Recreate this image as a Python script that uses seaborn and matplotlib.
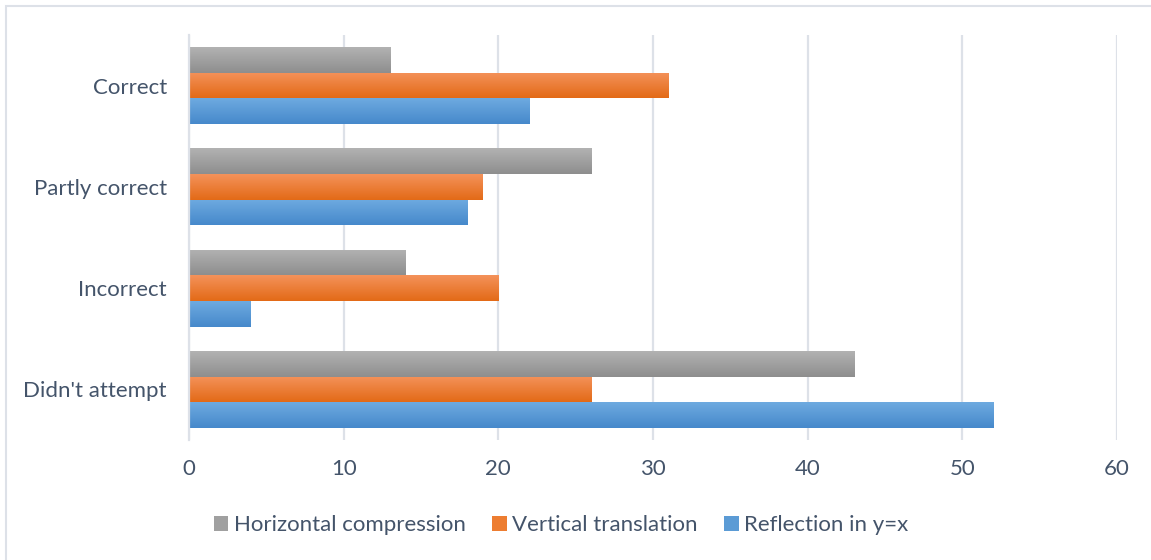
import numpy as np
import pandas as pd
import matplotlib
matplotlib.use("Agg")
import matplotlib.pyplot as plt
import seaborn as sns
from matplotlib.patches import Patch, Rectangle
from matplotlib.colors import LinearSegmentedColormap

categories = ["Correct", "Partly correct", "Incorrect", "Didn't attempt"]
series = ["Horizontal compression", "Vertical translation", "Reflection in y=x"]
horizontal_compression = [13, 26, 14, 43]
vertical_translation = [31, 19, 20, 26]
reflection = [22, 18, 4, 52]
xticks = [0, 10, 20, 30, 40, 50, 60]

colors = {"Horizontal compression": "#a0a0a0",
          "Vertical translation": "#ed7d31",
          "Reflection in y=x": "#5b9bd5"}
grad = {"Horizontal compression": ("#b2b2b2", "#8e8e8e"),
        "Vertical translation": ("#f4925a", "#e36a17"),
        "Reflection in y=x": ("#6eaae0", "#4689cb")}

rows = []
for s, vals in zip(series, [horizontal_compression, vertical_translation, reflection]):
    for c, v in zip(categories, vals):
        rows.append({"category": c, "series": s, "value": v})
df = pd.DataFrame(rows)

sns.set_theme(style="white")
plt.rcParams['font.family'] = ['Lato', 'DejaVu Sans']
text_color = "#44546A"

fig = plt.figure(figsize=(11.51, 5.6), dpi=100)
ax = fig.add_axes([189/1151, 1-440/560, (1117-189)/1151, (440-35)/560])

sns.barplot(data=df, y="category", x="value", hue="series", order=categories,
            hue_order=series, palette=colors, orient="h", width=0.76,
            ax=ax, legend=False, saturation=1, linewidth=0, errorbar=None)

# gradient fills (lighter at top, darker at bottom)
for container, s in zip(ax.containers, series):
    cmap = LinearSegmentedColormap.from_list(s, [grad[s][0], grad[s][1]])
    for bar in container:
        x0, y0 = bar.get_x(), bar.get_y()
        w, h = bar.get_width(), bar.get_height()
        img = ax.imshow(np.linspace(1, 0, 64).reshape(-1, 1), cmap=cmap, aspect="auto",
                        extent=[x0, x0 + w, y0 + h, y0], origin="lower", zorder=bar.get_zorder())
        img.set_clip_path(bar)
        bar.set_facecolor("none")

ax.set_xlim(0, 60)
ax.set_ylim(3.5, -0.5)
ax.set_xticks(xticks)
ax.set_xticklabels([str(t) for t in xticks])
ax.set_xlabel("")
ax.set_ylabel("")
ax.grid(axis="x", color="#dde1e8", linewidth=1.6)
ax.set_axisbelow(True)
for sp in ["top", "right", "bottom"]:
    ax.spines[sp].set_visible(False)
ax.spines["left"].set_color("#dde1e8")
ax.spines["left"].set_linewidth(1.6)
ax.tick_params(axis="both", length=0, labelsize=16, colors=text_color)
ax.tick_params(axis="x", pad=14)
ax.tick_params(axis="y", pad=16)

handles = [Patch(facecolor=colors[s], edgecolor="none") for s in series]
fig.legend(handles, series, loc="center", bbox_to_anchor=(561/1151, 1-525/560),
           ncol=3, frameon=False, fontsize=16, labelcolor=text_color,
           handlelength=0.65, handleheight=0.65, handletextpad=0.25, columnspacing=1.2)

fig.patches.append(Rectangle((6/1151, -0.1), 1.2, 1 - 6/560 + 0.1, transform=fig.transFigure,
                             fill=False, edgecolor="#dde1e8", linewidth=1.5))

fig.savefig("out.png", dpi=100)
